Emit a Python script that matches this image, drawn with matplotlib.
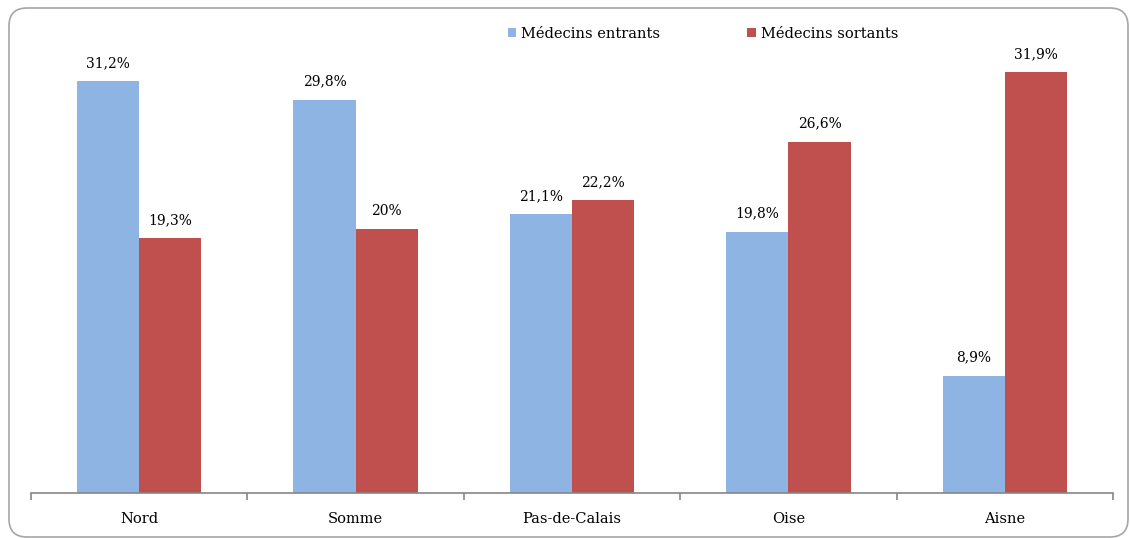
import matplotlib
matplotlib.use("Agg")
import matplotlib.pyplot as plt
import numpy as np
from matplotlib.patches import FancyBboxPatch

plt.rcParams["font.family"] = ["DejaVu Serif"]

# Data
departements = ["Nord", "Somme", "Pas-de-Calais", "Oise", "Aisne"]
entrants = [31.2, 29.8, 21.1, 19.8, 8.9]
sortants = [19.3, 20.0, 22.2, 26.6, 31.9]
series_names = ["Médecins entrants", "Médecins sortants"]

blue = "#8EB4E3"
red = "#C0504D"

W, H = 1130, 538
fig = plt.figure(figsize=(W / 100, H / 100), dpi=100, facecolor="white")

# rounded frame around the chart (pixel coords)
frame = FancyBboxPatch((9, 1), 1119, 529,
                       boxstyle="round,pad=0,rounding_size=18",
                       transform=None, facecolor="none",
                       edgecolor="#A6A6A6", linewidth=1.2)
fig.patches.append(frame)

ax = fig.add_axes([31 / W, 45 / H, 1082 / W, 462 / H])

x = np.arange(len(departements))
w = 0.287
b1 = ax.bar(x - w / 2, entrants, w, color=blue, label=series_names[0])
b2 = ax.bar(x + w / 2, sortants, w, color=red, label=series_names[1])

def fmt(v):
    s = f"{v:.1f}".replace(".", ",")
    if s.endswith(",0"):
        s = s[:-2]
    return s + "%"

ax.bar_label(b1, labels=[fmt(v) for v in entrants], padding=8, fontsize=10)
ax.bar_label(b2, labels=[fmt(v) for v in sortants], padding=8, fontsize=10)

ax.set_xlim(-0.5, len(departements) - 0.5)
ax.set_ylim(0, 35)

for s in ["top", "right", "left"]:
    ax.spines[s].set_visible(False)
ax.spines["bottom"].set_color("#868686")
ax.spines["bottom"].set_linewidth(1.2)
ax.set_yticks([])

# category labels centered, ticks at the boundaries
ax.set_xticks(x)
ax.set_xticklabels(departements, fontsize=10.5)
ax.tick_params(axis="x", which="major", length=0, pad=14)
ax.set_xticks(np.arange(len(departements) + 1) - 0.5, minor=True)
ax.tick_params(axis="x", which="minor", length=5, color="#868686", width=1.2)

leg = ax.legend(ncol=2, loc="center", bbox_to_anchor=(0.621, 1 - 3 / 462),
                frameon=False, fontsize=10.5, handlelength=0.55, handleheight=0.55,
                handletextpad=0.35, columnspacing=6.0)

fig.savefig("out.png", dpi=100)
